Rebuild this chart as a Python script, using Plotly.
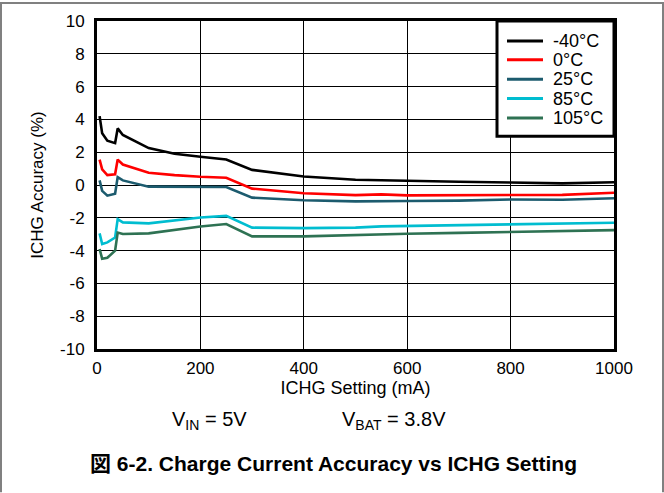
import plotly.graph_objects as go

# Charge current setting (mA)
ichg_ma = [5, 10, 20, 35, 40, 50, 100, 150, 200, 250, 300, 400, 500, 550, 600, 700, 800, 900, 1000]

# ICHG accuracy (%) per temperature
acc_m40 = [4.2, 3.15, 2.7, 2.55, 3.45, 3.05, 2.25, 1.9, 1.72, 1.55, 0.92, 0.52, 0.32, 0.3, 0.24, 0.2, 0.15, 0.1, 0.17]
acc_0 = [1.55, 0.95, 0.6, 0.65, 1.55, 1.25, 0.75, 0.6, 0.5, 0.44, -0.22, -0.5, -0.62, -0.57, -0.63, -0.62, -0.57, -0.6, -0.47]
acc_25 = [0.28, -0.36, -0.65, -0.53, 0.48, 0.28, -0.1, -0.12, -0.12, -0.12, -0.77, -0.93, -1.0, -1.0, -0.98, -0.95, -0.88, -0.9, -0.81]
acc_85 = [-2.95, -3.6, -3.5, -3.2, -2.08, -2.28, -2.34, -2.15, -1.98, -1.88, -2.6, -2.63, -2.6, -2.52, -2.5, -2.45, -2.4, -2.38, -2.3]
acc_105 = [-3.9, -4.5, -4.44, -4.0, -2.9, -2.99, -2.95, -2.75, -2.53, -2.38, -3.13, -3.13, -3.05, -2.97, -2.97, -2.92, -2.85, -2.8, -2.75]

series_names = ["-40°C", "0°C", "25°C", "85°C", "105°C"]
series_values = [acc_m40, acc_0, acc_25, acc_85, acc_105]
series_colors = ["#000000", "#FF0000", "#1C5B6E", "#00BDD0", "#2E7253"]

x_ticks = [0, 200, 400, 600, 800, 1000]
y_ticks = [-10, -8, -6, -4, -2, 0, 2, 4, 6, 8, 10]

W, H = 664, 493
M_L, M_R, M_T, M_B = 97, 50, 19, 144
FONT = "Liberation Sans, Arial, sans-serif"

fig = go.Figure()
for name, vals, col in zip(series_names, series_values, series_colors):
    fig.add_trace(go.Scatter(x=ichg_ma, y=vals, name=name, mode="lines",
                             line=dict(color=col, width=2.6), showlegend=False))

axis_common = dict(showline=True, linecolor="black", linewidth=3, mirror=True,
                   showgrid=True, gridcolor="black", gridwidth=1,
                   zeroline=False, ticks="", tickfont=dict(size=17, color="black"))

fig.update_xaxes(range=[0, 1000], tickvals=x_ticks, ticktext=[str(v) for v in x_ticks],
                 ticklabelstandoff=2,
                 title=dict(text="ICHG Setting (mA)", font=dict(size=18, color="black"), standoff=0),
                 **axis_common)
fig.update_yaxes(range=[-10, 10], tickvals=y_ticks, ticktext=[str(v) for v in y_ticks],
                 ticklabelstandoff=6,
                 title=dict(text="ICHG Accuracy (%)", font=dict(size=17, color="black"), standoff=13),
                 **axis_common)

# pixel -> paper conversion for page decorations
pw = W - M_L - M_R
ph = H - M_T - M_B
def px_x(p):
    return (p - M_L) / pw
def px_y(p):
    return 1 - (p - M_T) / ph

# page frame (left, top, right edges)
frame = dict(type="line", xref="paper", yref="paper", line=dict(color="#808080", width=2))
fig.add_shape(x0=px_x(1), x1=px_x(1), y0=px_y(0), y1=px_y(H), **frame)
fig.add_shape(x0=px_x(0), x1=px_x(W), y0=px_y(1), y1=px_y(1), **frame)
fig.add_shape(x0=px_x(W - 1), x1=px_x(W - 1), y0=px_y(0), y1=px_y(H), **frame)

# legend box in the upper-right corner of the plot
fig.add_shape(type="rect", xref="paper", yref="paper",
              x0=px_x(497), x1=1, y0=px_y(135), y1=1,
              fillcolor="white", line=dict(color="black", width=3), layer="above")
legend_rows = [39, 58, 77.5, 97, 116.5]
for name, col, row in zip(series_names, series_colors, legend_rows):
    fig.add_shape(type="line", xref="paper", yref="paper",
                  x0=px_x(507), x1=px_x(543), y0=px_y(row), y1=px_y(row),
                  line=dict(color=col, width=3), layer="above")
    fig.add_annotation(text=name, xref="paper", yref="paper",
                       x=px_x(551), y=px_y(row), xanchor="left", yanchor="middle",
                       showarrow=False, font=dict(size=18, color="black", family=FONT))

fig.add_annotation(text="V<sub>IN</sub> = 5V", xref="paper", yref="paper",
                   x=px_x(209), y=px_y(421), xanchor="center", yanchor="middle", showarrow=False,
                   font=dict(size=20, color="black", family=FONT))
fig.add_annotation(text="V<sub>BAT</sub> = 3.8V", xref="paper", yref="paper",
                   x=px_x(394), y=px_y(421), xanchor="center", yanchor="middle", showarrow=False,
                   font=dict(size=20, color="black", family=FONT))
fig.add_annotation(text="<b>図 6-2. Charge Current Accuracy vs ICHG Setting</b>", xref="paper", yref="paper",
                   x=px_x(333), y=px_y(464), xanchor="center", yanchor="middle", showarrow=False,
                   font=dict(size=21, color="black", family="Liberation Sans, Arial, Noto Sans CJK JP, sans-serif"))

fig.update_layout(
    width=W, height=H,
    margin=dict(l=M_L, r=M_R, t=M_T, b=M_B),
    paper_bgcolor="white", plot_bgcolor="white",
    font=dict(family=FONT, color="black"),
    showlegend=False,
)

fig.write_html("out.html")
